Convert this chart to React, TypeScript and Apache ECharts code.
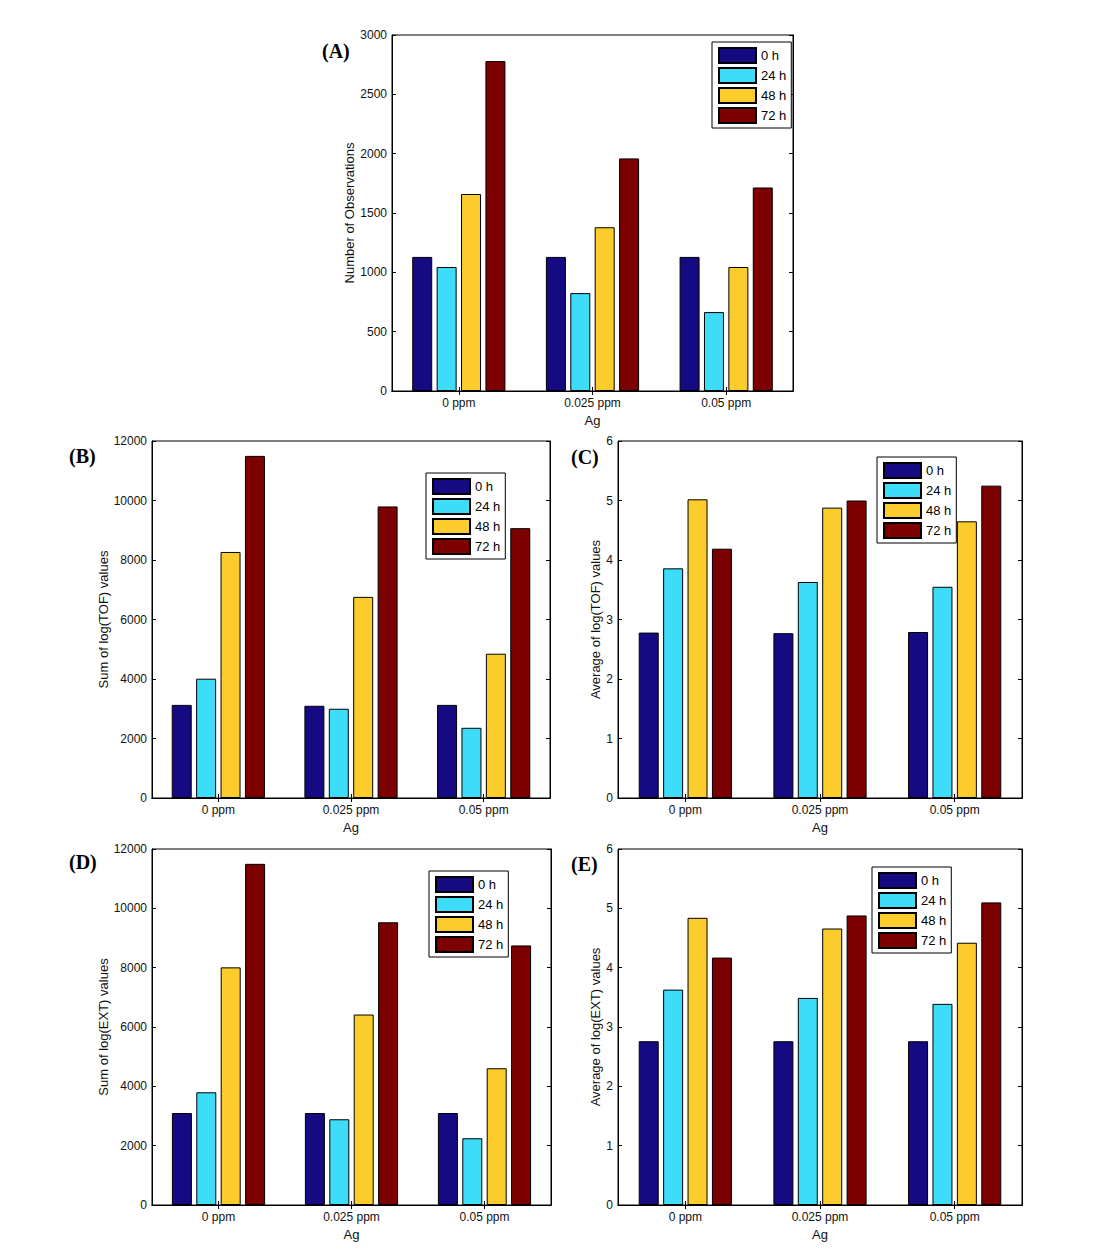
import React, { useEffect, useRef } from "react";
import * as echarts from "echarts";

// ---------- data ----------
const categories = ["0 ppm", "0.025 ppm", "0.05 ppm"];
const seriesNames = ["0 h", "24 h", "48 h", "72 h"];
const seriesColors = ["#150a82", "#3ddcf8", "#fccb2c", "#7d0000"];

// (A) Number of observations, one row per series (0 h, 24 h, 48 h, 72 h)
const obsCount = [
  [1130, 1130, 1130],
  [1045, 825, 665],
  [1660, 1380, 1045],
  [2780, 1960, 1715],
];
// (B) Sum of log(TOF)
const sumLogTOF = [
  [3130, 3100, 3130],
  [4010, 3000, 2360],
  [8270, 6760, 4850],
  [11500, 9800, 9070],
];
// (C) Average of log(TOF)
const avgLogTOF = [
  [2.78, 2.77, 2.79],
  [3.86, 3.63, 3.55],
  [5.02, 4.88, 4.65],
  [4.19, 5.0, 5.25],
];
// (D) Sum of log(EXT)
const sumLogEXT = [
  [3100, 3100, 3100],
  [3800, 2890, 2250],
  [8010, 6420, 4610],
  [11500, 9530, 8750],
];
// (E) Average of log(EXT)
const avgLogEXT = [
  [2.76, 2.76, 2.76],
  [3.63, 3.49, 3.39],
  [4.84, 4.66, 4.42],
  [4.17, 4.88, 5.1],
];

const panelLabels = ["(A)", "(B)", "(C)", "(D)", "(E)"];
const yAxisNames = [
  "Number of Observations",
  "Sum of log(TOF) values",
  "Average of log(TOF) values",
  "Sum of log(EXT) values",
  "Average of log(EXT) values",
];
const yMax = [3000, 12000, 6, 12000, 6];
const yStep = [500, 2000, 1, 2000, 1];
const xAxisName = "Ag";

// ---------- layout ----------
const FONT = "Liberation Sans, Arial, sans-serif";
const panels = [
  { data: obsCount, grid: { left: 392, top: 35, width: 401, height: 356 }, legend: { left: 712, top: 42 }, label: { x: 322, y: 52 }, nameGap: 36 },
  { data: sumLogTOF, grid: { left: 152, top: 441, width: 398, height: 357 }, legend: { left: 426, top: 473 }, label: { x: 69, y: 457 }, nameGap: 42 },
  { data: avgLogTOF, grid: { left: 618, top: 441, width: 404, height: 357 }, legend: { left: 877, top: 457 }, label: { x: 571, y: 458 }, nameGap: 15 },
  { data: sumLogEXT, grid: { left: 152, top: 849, width: 399, height: 356 }, legend: { left: 429, top: 871 }, label: { x: 69, y: 863 }, nameGap: 42 },
  { data: avgLogEXT, grid: { left: 618, top: 849, width: 404, height: 356 }, legend: { left: 872, top: 867 }, label: { x: 571, y: 865 }, nameGap: 15 },
];

function buildOption() {
  const grid: any[] = [];
  const xAxis: any[] = [];
  const yAxis: any[] = [];
  const series: any[] = [];
  const legend: any[] = [];
  const graphic: any[] = [];
  const lineStyle = { color: "#000", width: 1 };

  panels.forEach((p, i) => {
    grid.push({ ...p.grid, show: true, borderColor: "#000", borderWidth: 1, backgroundColor: "#fff", containLabel: false });
    xAxis.push({
      type: "category",
      gridIndex: i,
      data: categories,
      position: "bottom",
      name: xAxisName,
      nameLocation: "middle",
      nameGap: 23,
      nameTextStyle: { fontFamily: FONT, fontSize: 13, color: "#111" },
      axisLine: { show: true, lineStyle },
      axisTick: { show: true, inside: true, alignWithLabel: true, length: 4, lineStyle },
      axisLabel: { fontFamily: FONT, fontSize: 12, color: "#111", margin: 6 },
      splitLine: { show: false },
    });
    xAxis.push({
      type: "category",
      gridIndex: i,
      data: categories,
      position: "top",
      axisLine: { show: true, lineStyle },
      axisTick: { show: true, inside: true, alignWithLabel: true, length: 4, lineStyle },
      axisLabel: { show: false },
      splitLine: { show: false },
    });
    yAxis.push({
      type: "value",
      gridIndex: i,
      min: 0,
      max: yMax[i],
      interval: yStep[i],
      position: "left",
      name: yAxisNames[i],
      nameLocation: "middle",
      nameGap: p.nameGap,
      nameTextStyle: { fontFamily: FONT, fontSize: 13, color: "#111" },
      axisLine: { show: true, lineStyle },
      axisTick: { show: true, inside: true, length: 4, lineStyle },
      axisLabel: { fontFamily: FONT, fontSize: 12, color: "#111", margin: 5, formatter: (v: number) => String(v) },
      splitLine: { show: false },
    });
    yAxis.push({
      type: "value",
      gridIndex: i,
      min: 0,
      max: yMax[i],
      interval: yStep[i],
      position: "right",
      axisLine: { show: true, lineStyle },
      axisTick: { show: true, inside: true, length: 4, lineStyle },
      axisLabel: { show: false },
      splitLine: { show: false },
    });
    seriesNames.forEach((name, s) => {
      series.push({
        type: "bar",
        name,
        xAxisIndex: 2 * i,
        yAxisIndex: 2 * i,
        data: p.data[s],
        barWidth: 20,
        barGap: "22%",
        itemStyle: { color: seriesColors[s], borderColor: "#000", borderWidth: 1 },
      });
    });
    legend.push({
      show: true,
      left: p.legend.left,
      top: p.legend.top,
      orient: "vertical",
      data: seriesNames,
      itemWidth: 37,
      itemHeight: 15,
      itemGap: 3,
      icon: "rect",
      padding: [5, 5, 4, 6],
      borderColor: "#000",
      borderWidth: 1,
      backgroundColor: "#fff",
      selectedMode: false,
      textStyle: { fontFamily: FONT, fontSize: 13, color: "#000" },
    });
    graphic.push({
      type: "text",
      left: p.label.x,
      top: p.label.y - 11,
      style: {
        text: panelLabels[i],
        font: "bold 20px 'Liberation Serif', 'Times New Roman', serif",
        fill: "#000",
      },
    });
  });

  return {
    animation: false,
    backgroundColor: "#fff",
    grid,
    xAxis,
    yAxis,
    series,
    legend,
    graphic,
  };
}

export default function App() {
  const ref = useRef<HTMLDivElement>(null);
  useEffect(() => {
    if (!ref.current) return;
    const chart = echarts.init(ref.current, undefined, { renderer: "svg" });
    chart.setOption(buildOption());
    return () => chart.dispose();
  }, []);
  return (
    <div
      ref={ref}
      style={{ position: "absolute", left: 0, top: 0, width: 1107, height: 1259, background: "#fff" }}
    />
  );
}
